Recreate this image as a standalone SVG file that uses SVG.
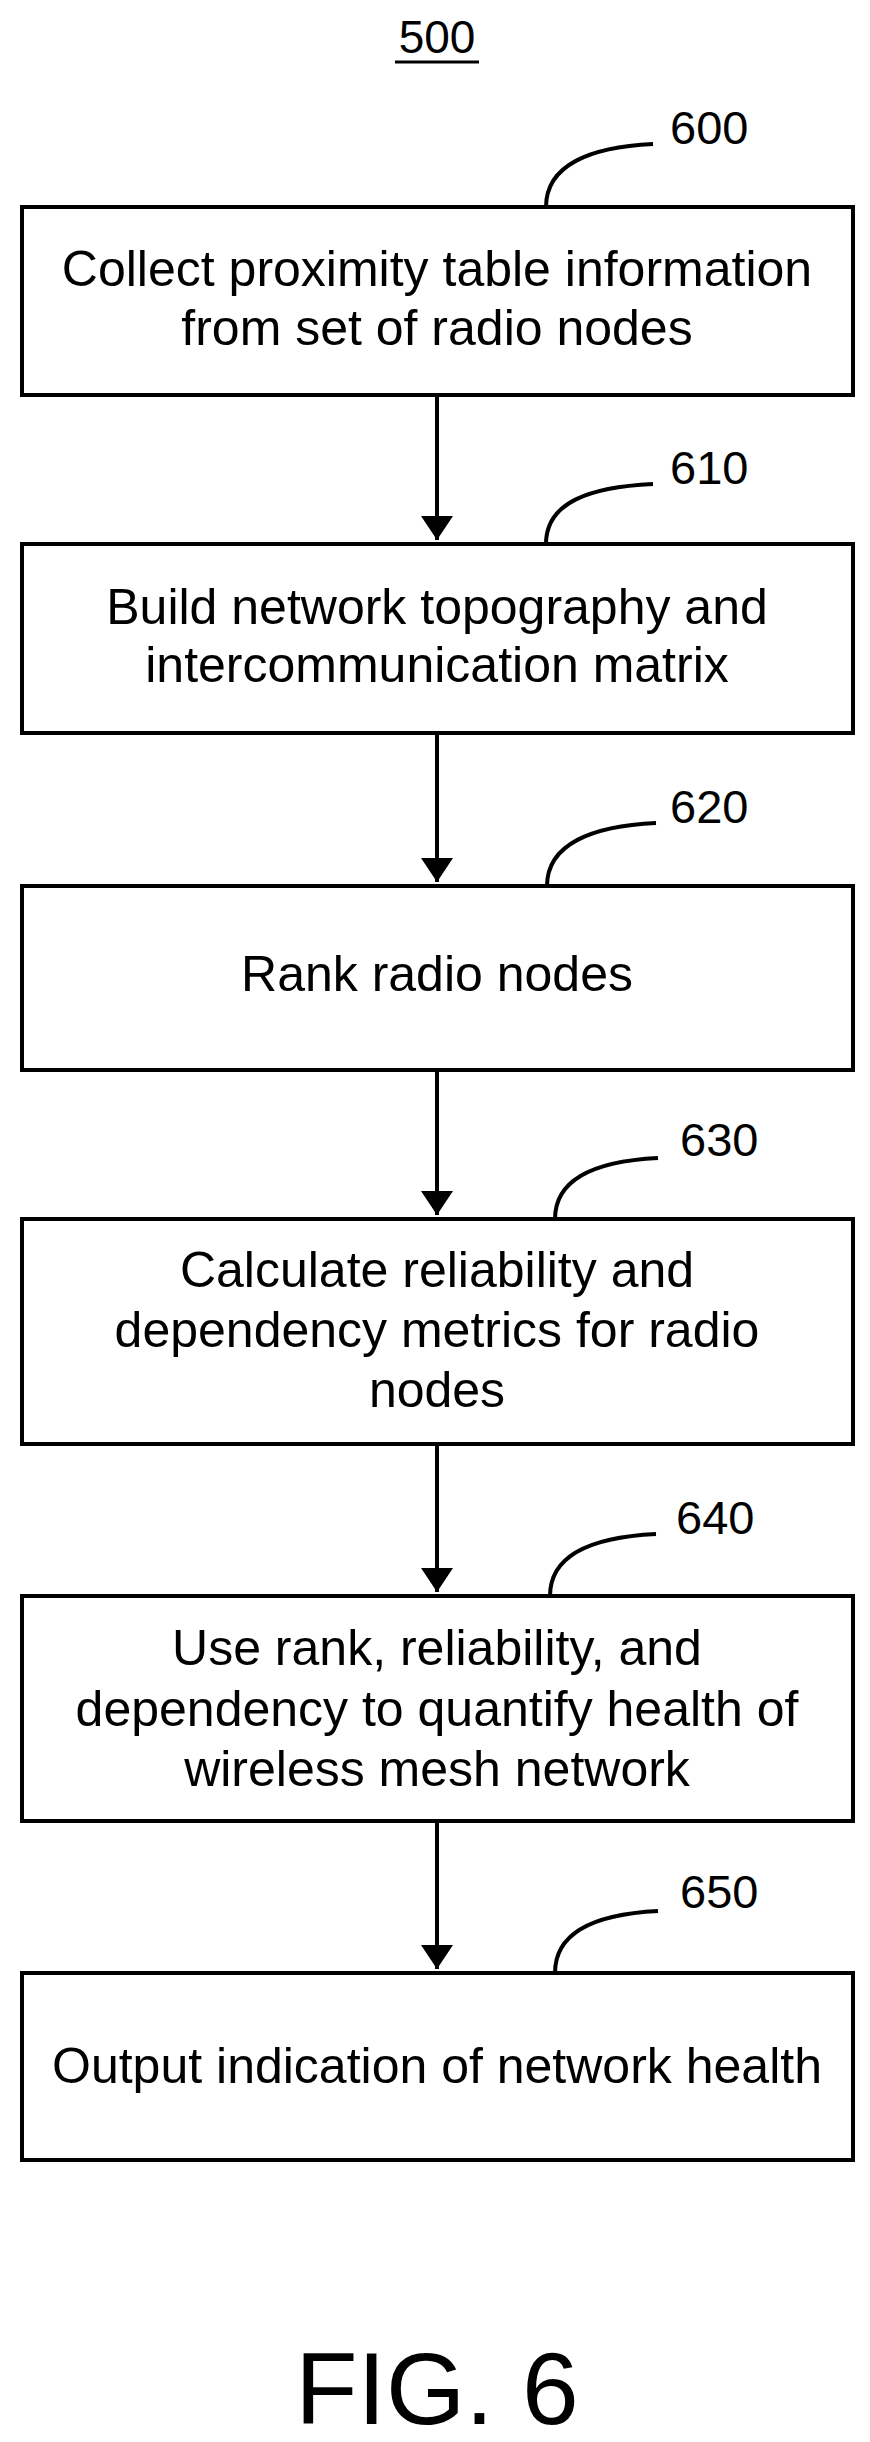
<svg xmlns="http://www.w3.org/2000/svg" width="870" height="2442" viewBox="0 0 870 2442">
<style>
text{font-family:"Liberation Sans",Arial,sans-serif;fill:#000}
.b{fill:#fff;stroke:#000;stroke-width:4}
.t{font-size:50px;text-anchor:middle}
.l{font-size:47px}
.c{fill:none;stroke:#000;stroke-width:4}
</style>
<defs><marker id="a" markerWidth="6" markerHeight="8" refX="6" refY="4" orient="auto" markerUnits="strokeWidth"><path d="M0,0L6,4L0,8z" fill="#000"/></marker></defs>
<rect width="870" height="2442" fill="#fff"/>
<g id="title"><text x="437" y="53" font-size="46" text-anchor="middle">500</text><line x1="395" y1="62" x2="479" y2="62" stroke="#000" stroke-width="3"/></g>
<g id="connectors">
<line class="c" x1="437" y1="395" x2="437" y2="540" marker-end="url(#a)"/>
<line class="c" x1="437" y1="733" x2="437" y2="882" marker-end="url(#a)"/>
<line class="c" x1="437" y1="1070" x2="437" y2="1215" marker-end="url(#a)"/>
<line class="c" x1="437" y1="1444" x2="437" y2="1592" marker-end="url(#a)"/>
<line class="c" x1="437" y1="1821" x2="437" y2="1969" marker-end="url(#a)"/>
<path class="c" d="M546,207C546,165 590,147 653,144"/>
<path class="c" d="M546,544C546,502 590,487 653,484"/>
<path class="c" d="M547,886C547,844 592,826 656,823"/>
<path class="c" d="M555,1219C555,1177 598,1161 658,1158"/>
<path class="c" d="M550,1596C550,1554 594,1537 656,1534"/>
<path class="c" d="M555,1973C555,1931 598,1914 658,1911"/>
</g>
<g id="n600"><rect class="b" x="22" y="207" width="831" height="188"/><text class="t" x="437" y="286">Collect proximity table information</text><text class="t" x="437" y="345">from set of radio nodes</text><text class="l" x="670" y="144">600</text></g>
<g id="n610"><rect class="b" x="22" y="544" width="831" height="189"/><text class="t" x="437" y="624">Build network topography and</text><text class="t" x="437" y="682">intercommunication matrix</text><text class="l" x="670" y="484">610</text></g>
<g id="n620"><rect class="b" x="22" y="886" width="831" height="184"/><text class="t" x="437" y="991">Rank radio nodes</text><text class="l" x="670" y="823">620</text></g>
<g id="n630"><rect class="b" x="22" y="1219" width="831" height="225"/><text class="t" x="437" y="1287">Calculate reliability and</text><text class="t" x="437" y="1347">dependency metrics for radio</text><text class="t" x="437" y="1407">nodes</text><text class="l" x="680" y="1156">630</text></g>
<g id="n640"><rect class="b" x="22" y="1596" width="831" height="225"/><text class="t" x="437" y="1665">Use rank, reliability, and</text><text class="t" x="437" y="1726">dependency to quantify health of</text><text class="t" x="437" y="1786">wireless mesh network</text><text class="l" x="676" y="1534">640</text></g>
<g id="n650"><rect class="b" x="22" y="1973" width="831" height="187"/><text class="t" x="437" y="2083">Output indication of network health</text><text class="l" x="680" y="1908">650</text></g>
<g id="fig"><text x="437" y="2424" font-size="102" text-anchor="middle">FIG. 6</text></g>
</svg>
